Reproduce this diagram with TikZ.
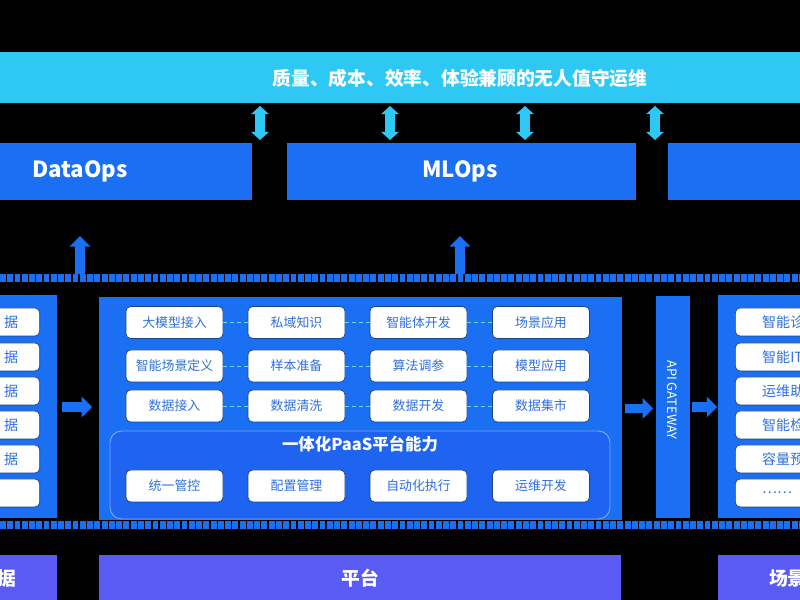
\documentclass[tikz,border=0pt]{standalone}
\usepackage{fontspec}
\setmainfont{Noto Sans CJK SC}
\usetikzlibrary{arrows.meta,positioning}
\definecolor{bg}{HTML}{000000}
\definecolor{cyanbar}{HTML}{2EC8F5}
\definecolor{mainblue}{HTML}{1A6FF2}
\definecolor{txtblue}{HTML}{2F6FE0}
\definecolor{purp}{HTML}{5A5AF5}
\definecolor{subpanel}{HTML}{1E64F0}
\begin{document}
\begin{tikzpicture}[x={(0.03cm,0)},y={(0,-0.03cm)},
  box/.style={fill=mainblue,draw=none,inner sep=0},
  item/.style={fill=white,draw=txtblue!60!black,line width=0.6pt,rounded corners=4pt,minimum width=97*0.03cm,minimum height=32*0.03cm,font=\fontsize{11}{12}\selectfont,text=txtblue,inner sep=0},
  sitem/.style={item,minimum width=60*0.03cm,minimum height=28*0.03cm},
  head/.style={text=white,font=\bfseries\fontsize{16}{18}\selectfont},
  dbl/.style={draw=cyanbar,line width=9pt,{Triangle[length=7pt,width=15pt]}-{Triangle[length=7pt,width=15pt]}},
  blk/.style={draw=mainblue,line width=8pt,-{Triangle[length=9pt,width=17pt]}},
  link/.style={draw=cyanbar!70,line width=0.5pt,dashed}]
\fill[bg] (0,0) rectangle (800,600);
\clip (0,0) rectangle (800,600);
% top bar
\node[fill=cyanbar,minimum width=800*0.03cm,minimum height=51*0.03cm,inner sep=0] (top) at (400,78) {};
\node[head,font=\bfseries\fontsize{16}{18}\selectfont] (toptxt) at (460,78) {质量、成本、效率、体验兼顾的无人值守运维};
% ops boxes
\node[box,minimum width=252*0.03cm,minimum height=57*0.03cm] (dataops) at (126,171.5) {};
\node[head,font=\bfseries\fontsize{19}{21}\selectfont] at (80,171) {DataOps};
\node[box,minimum width=349*0.03cm,minimum height=57*0.03cm] (mlops) at (461.5,171.5) {};
\node[head,font=\bfseries\fontsize{19}{21}\selectfont] at (460,171) {MLOps};
\node[box,minimum width=140*0.03cm,minimum height=57*0.03cm] (aiops) at (738,171.5) {};
\node[head,anchor=west,font=\bfseries\fontsize{19}{21}\selectfont] at (798,171) {AIOps};
% double arrows
\foreach \x/\n in {260/a,390/b,525/c,655/d}{
  \coordinate (u\n) at (\x,106);
  \coordinate (l\n) at (\x,140);
  \draw[dbl] (u\n) -- (l\n);
}
% dotted bands
\foreach \yy in {278,525}{
  \draw[mainblue,line width=7pt,dash pattern=on 5pt off 1.2pt] (0,\yy) -- (800,\yy);
}
% up arrows
\coordinate (s1) at (80,274); \coordinate (e1) at (80,236);
\coordinate (s2) at (460,274); \coordinate (e2) at (460,236);
\draw[blk] (s1) -- (e1);
\draw[blk] (s2) -- (e2);
% left panel
\node[box,minimum width=57*0.03cm,minimum height=223*0.03cm] (left) at (28.5,407) {};
\foreach \y/\t [count=\i] in {322/据,357/据,391/据,425/据,459/据,493/}{
  \node[sitem,anchor=east] (L\i) at (40,\y) {};
  \node[text=txtblue,font=\fontsize{12}{13}\selectfont,anchor=west] at (0,\y) {\t};
}
% central panel
\node[box,minimum width=523*0.03cm,minimum height=223*0.03cm] (center) at (360.5,408.5) {};
\node[fill=subpanel,draw=mainblue!60!white,line width=0.8pt,rounded corners=10pt,minimum width=500*0.03cm,minimum height=88*0.03cm] (sub) at (360,475) {};
\node[head,font=\bfseries\fontsize{14}{16}\selectfont] (subt) at (360,444) {一体化PaaS平台能力};
\def\cA{174.5}\def\cB{296.5}\def\cC{418.5}\def\cD{541}
\foreach \r/\y/\ta/\tb/\tc/\td in {1/322.5/大模型接入/私域知识/智能体开发/场景应用,2/366/智能场景定义/样本准备/算法调参/模型应用,3/406/数据接入/数据清洗/数据开发/数据集市,4/486/统一管控/配置管理/自动化执行/运维开发}{
  \node[item] (c\r a) at (\cA,\y) {\ta};
  \node[item] (c\r b) at (\cB,\y) {\tb};
  \node[item] (c\r c) at (\cC,\y) {\tc};
  \node[item] (c\r d) at (\cD,\y) {\td};
}
\foreach \r in {1,2,3}{
  \draw[link] (c\r a) -- (c\r b);
  \draw[link] (c\r b) -- (c\r c);
  \draw[link] (c\r c) -- (c\r d);
}
% gateway
\node[box,draw=black,line width=0.5pt,minimum width=35*0.03cm,minimum height=223*0.03cm] (gw) at (672.5,407) {};
\node[text=white,rotate=-90,font=\fontsize{11}{12}\selectfont] at (672.5,400) {API GATEWAY};
% right panel
\node[box,minimum width=82*0.03cm,minimum height=223*0.03cm] (right) at (759,407) {};
\foreach \y/\t [count=\i] in {322/智能诊断,357/智能IT服务,391/运维助手,425/智能检测,459/容量预测,493/……}{
  \node[sitem,anchor=west,minimum width=80*0.03cm] (R\i) at (735,\y) {};
  \node[text=txtblue,font=\fontsize{12}{13}\selectfont,anchor=west] at (758,\y) {\t};
}
% horizontal arrows
\draw[blk] (left.east) ++(5,0) coordinate (h1s) -- ++(30,0) coordinate (h1e);
\draw[blk] (center.east) ++(3,0) coordinate (h2s) -- ++(28,0) coordinate (h2e);
\draw[blk] (gw.east) ++(2,0) coordinate (h3s) -- ++(25,0) coordinate (h3e);
% bottom purple bars
\node[fill=purp,minimum width=57*0.03cm,minimum height=45*0.03cm,inner sep=0] (b1) at (28.5,578) {};
\node[head,anchor=east] at (20,578) {数据};
\node[fill=purp,minimum width=522*0.03cm,minimum height=45*0.03cm,inner sep=0] (b2) at (360,578) {};
\node[head] at (360,578) {平台};
\node[fill=purp,minimum width=82*0.03cm,minimum height=45*0.03cm,inner sep=0] (b3) at (759,578) {};
\node[head,anchor=west] at (765,578) {场景};
\end{tikzpicture}
\end{document}
